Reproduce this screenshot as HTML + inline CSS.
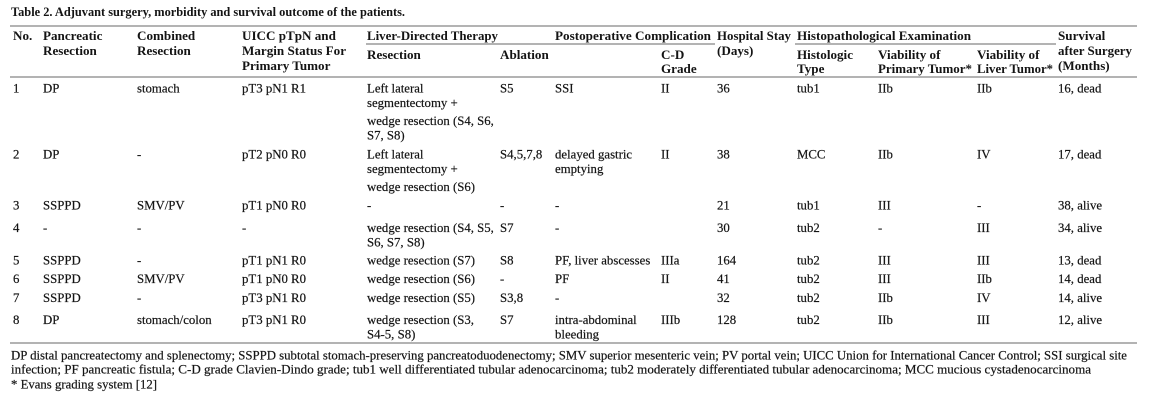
<!DOCTYPE html>
<html><head><meta charset="utf-8"><style>
html,body{margin:0;padding:0;background:#fff;}
svg{display:block;}
text{font-family:"Liberation Serif",serif;fill:#141414;}
.r{font-size:12.8px;stroke:#141414;stroke-width:0.2px;}
.b{font-size:13.1px;font-weight:bold;}
</style></head><body>
<svg width="1153" height="401" viewBox="0 0 1153 401" xmlns="http://www.w3.org/2000/svg">
<rect width="1153" height="401" fill="#fff"/>
<text class="b" x="11" y="16" textLength="394" lengthAdjust="spacingAndGlyphs">Table 2. Adjuvant surgery, morbidity and survival outcome of the patients.</text>
<g stroke="#9a9a9a" stroke-width="1.4">
<line x1="10" y1="26" x2="1137" y2="26"/>
<line x1="366" y1="44" x2="715" y2="44"/>
<line x1="795" y1="44" x2="1056" y2="44"/>
<line x1="10" y1="77" x2="1137" y2="77"/>
<line x1="10" y1="343" x2="1137" y2="343"/>
</g>
<!-- headers -->
<text class="b" x="13" y="40">No.</text>
<text class="b" x="43" y="40">Pancreatic</text>
<text class="b" x="43" y="55">Resection</text>
<text class="b" x="137" y="40">Combined</text>
<text class="b" x="137" y="55">Resection</text>
<text class="b" x="242" y="40">UICC pTpN and</text>
<text class="b" x="242" y="55">Margin Status For</text>
<text class="b" x="242" y="70">Primary Tumor</text>
<text class="b" x="367" y="40" textLength="131" lengthAdjust="spacingAndGlyphs">Liver-Directed Therapy</text>
<text class="b" x="367" y="59">Resection</text>
<text class="b" x="500" y="59">Ablation</text>
<text class="b" x="555" y="40" textLength="156" lengthAdjust="spacingAndGlyphs">Postoperative Complication</text>
<text class="b" x="661" y="59">C-D</text>
<text class="b" x="661" y="73">Grade</text>
<text class="b" x="717" y="40" textLength="74" lengthAdjust="spacingAndGlyphs">Hospital Stay</text>
<text class="b" x="717" y="55">(Days)</text>
<text class="b" x="797" y="40" textLength="174" lengthAdjust="spacingAndGlyphs">Histopathological Examination</text>
<text class="b" x="797" y="59">Histologic</text>
<text class="b" x="797" y="73">Type</text>
<text class="b" x="878" y="59">Viability of</text>
<text class="b" x="878" y="73" textLength="94" lengthAdjust="spacingAndGlyphs">Primary Tumor*</text>
<text class="b" x="977" y="59">Viability of</text>
<text class="b" x="977" y="73" textLength="76" lengthAdjust="spacingAndGlyphs">Liver Tumor*</text>
<text class="b" x="1058" y="40">Survival</text>
<text class="b" x="1058" y="55" textLength="74" lengthAdjust="spacingAndGlyphs">after Surgery</text>
<text class="b" x="1058" y="70">(Months)</text>
<!-- row 1 -->
<text class="r" x="13" y="92.5">1</text>
<text class="r" x="43" y="92.5">DP</text>
<text class="r" x="137" y="92.5">stomach</text>
<text class="r" x="242" y="92.5">pT3 pN1 R1</text>
<text class="r" x="367" y="92.5">Left lateral</text>
<text class="r" x="367" y="107">segmentectomy +</text>
<text class="r" x="367" y="125">wedge resection (S4, S6,</text>
<text class="r" x="367" y="139.5">S7, S8)</text>
<text class="r" x="500" y="92.5">S5</text>
<text class="r" x="555" y="92.5">SSI</text>
<text class="r" x="661" y="92.5">II</text>
<text class="r" x="717" y="92.5">36</text>
<text class="r" x="797" y="92.5">tub1</text>
<text class="r" x="878" y="92.5">IIb</text>
<text class="r" x="977" y="92.5">IIb</text>
<text class="r" x="1058" y="92.5">16, dead</text>
<!-- row 2 -->
<text class="r" x="13" y="158.5">2</text>
<text class="r" x="43" y="158.5">DP</text>
<text class="r" x="137" y="158.5">-</text>
<text class="r" x="242" y="158.5">pT2 pN0 R0</text>
<text class="r" x="367" y="158.5">Left lateral</text>
<text class="r" x="367" y="173">segmentectomy +</text>
<text class="r" x="367" y="191">wedge resection (S6)</text>
<text class="r" x="500" y="158.5">S4,5,7,8</text>
<text class="r" x="555" y="158.5">delayed gastric</text>
<text class="r" x="555" y="173">emptying</text>
<text class="r" x="661" y="158.5">II</text>
<text class="r" x="717" y="158.5">38</text>
<text class="r" x="797" y="158.5">MCC</text>
<text class="r" x="878" y="158.5">IIb</text>
<text class="r" x="977" y="158.5">IV</text>
<text class="r" x="1058" y="158.5">17, dead</text>
<!-- row 3 -->
<text class="r" x="13" y="209.5">3</text>
<text class="r" x="43" y="209.5">SSPPD</text>
<text class="r" x="137" y="209.5">SMV/PV</text>
<text class="r" x="242" y="209.5">pT1 pN0 R0</text>
<text class="r" x="367" y="209.5">-</text>
<text class="r" x="500" y="209.5">-</text>
<text class="r" x="555" y="209.5">-</text>
<text class="r" x="717" y="209.5">21</text>
<text class="r" x="797" y="209.5">tub1</text>
<text class="r" x="878" y="209.5">III</text>
<text class="r" x="977" y="209.5">-</text>
<text class="r" x="1058" y="209.5">38, alive</text>
<!-- row 4 -->
<text class="r" x="13" y="232">4</text>
<text class="r" x="43" y="232">-</text>
<text class="r" x="137" y="232">-</text>
<text class="r" x="242" y="232">-</text>
<text class="r" x="367" y="232">wedge resection (S4, S5,</text>
<text class="r" x="367" y="246.5">S6, S7, S8)</text>
<text class="r" x="500" y="232">S7</text>
<text class="r" x="555" y="232">-</text>
<text class="r" x="717" y="232">30</text>
<text class="r" x="797" y="232">tub2</text>
<text class="r" x="878" y="232">-</text>
<text class="r" x="977" y="232">III</text>
<text class="r" x="1058" y="232">34, alive</text>
<!-- row 5 -->
<text class="r" x="13" y="264.5">5</text>
<text class="r" x="43" y="264.5">SSPPD</text>
<text class="r" x="137" y="264.5">-</text>
<text class="r" x="242" y="264.5">pT1 pN1 R0</text>
<text class="r" x="367" y="264.5">wedge resection (S7)</text>
<text class="r" x="500" y="264.5">S8</text>
<text class="r" x="555" y="264.5">PF, liver abscesses</text>
<text class="r" x="661" y="264.5">IIIa</text>
<text class="r" x="717" y="264.5">164</text>
<text class="r" x="797" y="264.5">tub2</text>
<text class="r" x="878" y="264.5">III</text>
<text class="r" x="977" y="264.5">III</text>
<text class="r" x="1058" y="264.5">13, dead</text>
<!-- row 6 -->
<text class="r" x="13" y="283">6</text>
<text class="r" x="43" y="283">SSPPD</text>
<text class="r" x="137" y="283">SMV/PV</text>
<text class="r" x="242" y="283">pT1 pN0 R0</text>
<text class="r" x="367" y="283">wedge resection (S6)</text>
<text class="r" x="500" y="283">-</text>
<text class="r" x="555" y="283">PF</text>
<text class="r" x="661" y="283">II</text>
<text class="r" x="717" y="283">41</text>
<text class="r" x="797" y="283">tub2</text>
<text class="r" x="878" y="283">III</text>
<text class="r" x="977" y="283">IIb</text>
<text class="r" x="1058" y="283">14, dead</text>
<!-- row 7 -->
<text class="r" x="13" y="302">7</text>
<text class="r" x="43" y="302">SSPPD</text>
<text class="r" x="137" y="302">-</text>
<text class="r" x="242" y="302">pT3 pN1 R0</text>
<text class="r" x="367" y="302">wedge resection (S5)</text>
<text class="r" x="500" y="302">S3,8</text>
<text class="r" x="555" y="302">-</text>
<text class="r" x="717" y="302">32</text>
<text class="r" x="797" y="302">tub2</text>
<text class="r" x="878" y="302">IIb</text>
<text class="r" x="977" y="302">IV</text>
<text class="r" x="1058" y="302">14, alive</text>
<!-- row 8 -->
<text class="r" x="13" y="324">8</text>
<text class="r" x="43" y="324">DP</text>
<text class="r" x="137" y="324">stomach/colon</text>
<text class="r" x="242" y="324">pT3 pN1 R0</text>
<text class="r" x="367" y="324">wedge resection (S3,</text>
<text class="r" x="367" y="338.5">S4-5, S8)</text>
<text class="r" x="500" y="324">S7</text>
<text class="r" x="555" y="324">intra-abdominal</text>
<text class="r" x="555" y="338.5">bleeding</text>
<text class="r" x="661" y="324">IIIb</text>
<text class="r" x="717" y="324">128</text>
<text class="r" x="797" y="324">tub2</text>
<text class="r" x="878" y="324">IIb</text>
<text class="r" x="977" y="324">III</text>
<text class="r" x="1058" y="324">12, alive</text>
<!-- footnotes -->
<text class="r" x="11" y="359.5" textLength="1116" lengthAdjust="spacingAndGlyphs">DP distal pancreatectomy and splenectomy; SSPPD subtotal stomach-preserving pancreatoduodenectomy; SMV superior mesenteric vein; PV portal vein; UICC Union for International Cancer Control; SSI surgical site</text>
<text class="r" x="11" y="373.5" textLength="1080" lengthAdjust="spacingAndGlyphs">infection; PF pancreatic fistula; C-D grade Clavien-Dindo grade; tub1 well differentiated tubular adenocarcinoma; tub2 moderately differentiated tubular adenocarcinoma; MCC mucious cystadenocarcinoma</text>
<text class="r" x="11" y="388.5" textLength="146" lengthAdjust="spacingAndGlyphs">* Evans grading system [12]</text>
</svg>
</body></html>
